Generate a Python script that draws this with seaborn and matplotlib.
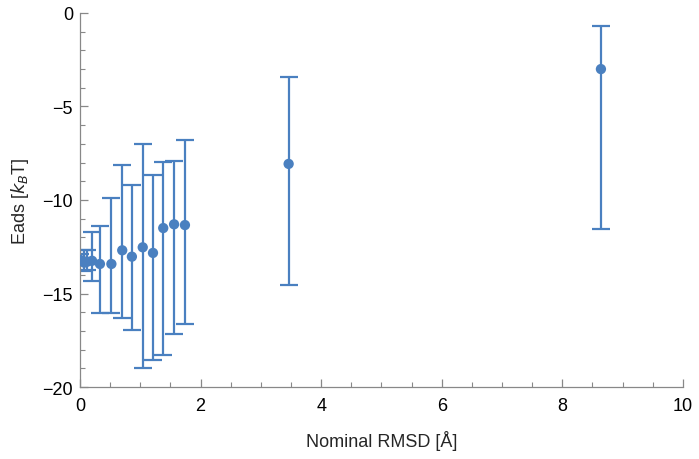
import numpy as np
import pandas as pd
import matplotlib
matplotlib.use("Agg")
import matplotlib.pyplot as plt
import seaborn as sns
from matplotlib.ticker import MultipleLocator

# -----------------------
# Data
# -----------------------
rmsd = [0.0, 0.07, 0.12, 0.2, 0.33, 0.52, 0.70, 0.86, 1.04, 1.21, 1.38, 1.56, 1.74, 3.46, 8.64]
eads = [-13.2, -13.35, -13.3, -13.25, -13.42, -13.42, -12.69, -13.03, -12.53, -12.83,
        -11.50, -11.30, -11.34, -8.07, -3.00]
upper = [-12.9, -12.65, -12.65, -11.7, -11.37, -9.91, -8.15, -9.18, -6.99, -8.65,
         -7.95, -7.90, -6.81, -3.44, -0.71]
lower = [-13.5, -13.8, -13.75, -14.35, -16.04, -16.04, -16.31, -16.95, -19.0, -18.56,
         -18.29, -17.18, -16.63, -14.53, -11.55]

df = pd.DataFrame({"rmsd": rmsd, "eads": eads, "upper": upper, "lower": lower})
color = "#4A80C0"

# -----------------------
# Plot
# -----------------------
sns.set_style("ticks")
plt.rcParams['font.family'] = ['Liberation Sans', 'DejaVu Sans']

fig = plt.figure(figsize=(6.99, 4.60), dpi=100)
ax = fig.add_axes([0.1145, 0.1565, 0.8625, 0.8131])

yerr = np.array([df["eads"] - df["lower"], df["upper"] - df["eads"]])
ax.errorbar(df["rmsd"], df["eads"], yerr=yerr, fmt="none", ecolor=color,
            elinewidth=1.6, capsize=6.3, capthick=1.6, zorder=2)
sns.scatterplot(data=df, x="rmsd", y="eads", color=color, s=55,
                edgecolor="none", ax=ax, zorder=3)

ax.set_xlim(0, 10)
ax.set_ylim(-20, 0)
ax.xaxis.set_major_locator(MultipleLocator(2))
ax.xaxis.set_minor_locator(MultipleLocator(0.5))
ax.yaxis.set_major_locator(MultipleLocator(5))
ax.yaxis.set_minor_locator(MultipleLocator(1))
ax.tick_params(which="both", direction="in", color="#888888", labelsize=13,
               labelcolor="black")
ax.tick_params(which="major", length=6, width=0.9)
ax.tick_params(which="minor", length=3.5, width=0.8)
ax.tick_params(axis="x", which="major", pad=7)
ax.tick_params(axis="y", which="major", pad=5)
ax.yaxis.set_major_formatter(matplotlib.ticker.FuncFormatter(
    lambda v, p: f"{int(v)}".replace("-", "\u2212")))

for side in ["top", "right"]:
    ax.spines[side].set_visible(False)
for side in ["left", "bottom"]:
    ax.spines[side].set_color("#888888")
    ax.spines[side].set_linewidth(0.9)

ax.set_xlabel("Nominal RMSD [Å]", fontsize=13, labelpad=12)
ax.set_ylabel("Eads [$k_B$T]", fontsize=13, labelpad=8)

fig.savefig("out.png", dpi=100)
